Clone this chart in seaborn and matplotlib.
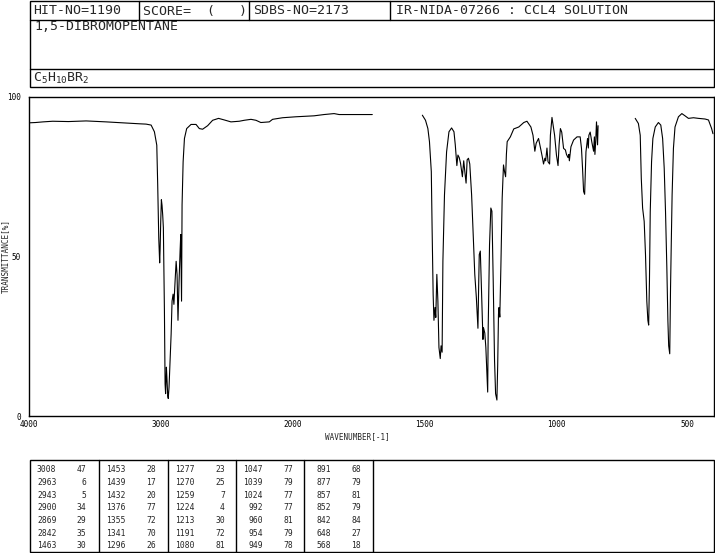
import numpy as np
import pandas as pd
import matplotlib
matplotlib.use("Agg")
import matplotlib.pyplot as plt
import seaborn as sns
from matplotlib.patches import Rectangle
from matplotlib.ticker import FixedLocator, FixedFormatter

# IR spectrum of 1,5-dibromopentane in three pieces
seg1_wn = [4000, 3950, 3894, 3820, 3700, 3566, 3414, 3288, 3161, 3111, 3073, 3048,
           3030, 3023, 3015, 3008, 3005, 3000, 2995, 2990, 2985, 2980, 2972, 2967,
           2963, 2957, 2952, 2947, 2943, 2937, 2929, 2921, 2914, 2906, 2900, 2891,
           2883, 2876, 2869, 2861, 2853, 2848, 2842, 2838, 2830, 2820, 2803, 2770,
           2732, 2707, 2682, 2644, 2606, 2561, 2517, 2467, 2404, 2366, 2315, 2277,
           2240, 2176, 2151, 2075, 1987, 1918, 1880, 1842, 1823, 1754, 1697]
seg1_t = [91.9, 92.0, 92.2, 92.4, 92.3, 92.5, 92.2, 91.9, 91.6, 91.5, 91.2, 89.1,
          84.9, 72.5, 55.8, 48.0, 51.8, 61.0, 67.8, 66.0, 63.0, 59.0, 33.0, 10.0,
          7.0, 15.3, 11.0, 6.4, 5.5, 9.0, 17.4, 25.7, 36.0, 38.2, 35.0, 42.3,
          48.5, 44.3, 30.0, 42.0, 51.7, 56.9, 36.0, 66.2, 79.7, 87.0, 90.1, 91.4,
          91.4, 90.1, 89.9, 91.0, 92.7, 93.3, 92.8, 92.2, 92.4, 92.7, 93.0, 92.7,
          92.0, 92.2, 93.0, 93.5, 93.8, 94.1, 94.5, 94.8, 94.5, 94.5, 94.5]

seg2_wn = [1507, 1495, 1486, 1480, 1473, 1470, 1466, 1463, 1459, 1456, 1452, 1448,
           1444, 1439, 1436, 1432, 1429, 1423, 1415, 1406, 1396, 1387, 1382, 1376,
           1372, 1367, 1362, 1355, 1350, 1345, 1341, 1337, 1332, 1327, 1320, 1314,
           1308, 1302, 1296, 1293, 1291, 1287, 1282, 1277, 1275, 1270, 1266, 1259,
           1257, 1252, 1247, 1243, 1238, 1233, 1229, 1224, 1221, 1218, 1216, 1213,
           1209, 1204, 1199, 1195, 1191, 1188, 1185, 1173, 1160, 1141, 1122, 1110,
           1095, 1087, 1080, 1075, 1066, 1057, 1052, 1047, 1042, 1039, 1034, 1030,
           1024, 1021, 1015, 1005, 998, 992, 988, 983, 978, 971, 964, 960,
           954, 951, 949, 943, 933, 920, 908, 903, 899, 895, 891, 886,
           880, 877, 875, 870, 864, 857, 854, 852, 849, 846, 842, 840]
seg2_t = [94.3, 92.7, 90.1, 86.0, 76.6, 59.0, 38.1, 30.0, 34.0, 30.9, 44.4, 36.0,
          21.5, 18.0, 22.0, 20.0, 48.5, 69.3, 82.8, 89.1, 90.3, 89.1, 85.0, 78.5,
          81.8, 81.0, 79.2, 75.0, 80.0, 76.0, 73.0, 80.3, 80.8, 79.0, 69.3, 56.9,
          44.4, 37.1, 27.5, 42.0, 50.6, 51.7, 38.1, 24.0, 27.7, 26.0, 21.5, 7.5,
          28.0, 53.7, 65.2, 64.2, 42.3, 17.4, 7.0, 5.0, 16.0, 31.9, 34.0, 31.0,
          46.5, 68.3, 78.7, 76.6, 75.0, 82.0, 86.0, 87.5, 90.0, 90.6, 92.0, 92.4,
          90.6, 88.0, 83.0, 85.5, 87.0, 83.4, 81.3, 79.0, 80.8, 80.0, 84.0, 79.7,
          79.0, 88.0, 93.6, 88.0, 81.8, 78.5, 85.0, 90.1, 89.0, 83.9, 83.4, 82.0,
          81.0, 82.0, 80.0, 84.4, 86.5, 87.5, 87.5, 83.9, 77.7, 70.4, 69.5, 82.8,
          87.0, 84.0, 88.0, 89.0, 86.0, 83.0, 87.5, 82.0, 86.0, 92.2, 85.0, 91.0]

seg3_wn = [699, 687, 680, 676, 671, 665, 660, 655, 651, 648, 645, 642,
           637, 632, 623, 611, 602, 595, 589, 584, 579, 575, 572, 568,
           565, 562, 559, 554, 548, 535, 522, 510, 497, 478, 459, 434,
           421, 409, 404]
seg3_t = [93.3, 91.7, 88.0, 74.5, 65.2, 61.0, 50.6, 36.0, 30.0, 28.5, 42.3, 64.0,
          79.7, 87.0, 90.6, 92.0, 91.2, 87.0, 77.7, 64.0, 46.5, 29.8, 22.0, 19.5,
          40.0, 55.0, 69.3, 83.9, 90.6, 93.8, 94.8, 94.1, 93.3, 93.5, 93.3, 93.1,
          92.8, 90.1, 88.5]

# peak table (wavenumber, transmittance), five columns of seven rows
peak_wn = [3008, 2963, 2943, 2900, 2869, 2842, 1463,
           1453, 1439, 1432, 1376, 1355, 1341, 1296,
           1277, 1270, 1259, 1224, 1213, 1191, 1080,
           1047, 1039, 1024, 992, 960, 954, 949,
           891, 877, 857, 852, 842, 648, 568]
peak_t = [47, 6, 5, 34, 29, 35, 30,
          28, 17, 20, 77, 72, 70, 26,
          23, 25, 7, 4, 30, 72, 81,
          77, 79, 77, 77, 81, 79, 78,
          68, 79, 81, 79, 84, 27, 18]

header_cells = ["HIT-NO=1190", "SCORE=  (   )", "SDBS-NO=2173",
                "IR-NIDA-07266 : CCL4 SOLUTION"]
compound = "1,5-DIBROMOPENTANE"
formula = r"$\mathtt{C_{5}H_{10}BR_{2}}$"

sns.set_theme(style="white")
plt.rcParams["font.family"] = ["DejaVu Sans Mono", "DejaVu Sans"]
plt.rcParams["mathtext.fontset"] = "dejavusans"

W, H = 715, 553
fig = plt.figure(figsize=(W / 100, H / 100), dpi=100)


def px_box(x0, y0, x1, y1):
    return [x0 / W, 1 - y1 / H, (x1 - x0) / W, (y1 - y0) / H]


# spectrum axes
ax = fig.add_axes(px_box(29, 97, 714, 416))
spec = pd.concat([
    pd.DataFrame({"wn": seg1_wn, "T": seg1_t, "seg": 1}),
    pd.DataFrame({"wn": seg2_wn, "T": seg2_t, "seg": 2}),
    pd.DataFrame({"wn": seg3_wn, "T": seg3_t, "seg": 3}),
])
sns.lineplot(data=spec, x="wn", y="T", units="seg", estimator=None, sort=False,
             color="black", linewidth=0.8, ax=ax, legend=False)


# wavenumber axis: 500 per unit below 2000, 1000 per unit above (increasing)
def fwd(w):
    w = np.asarray(w, dtype=float)
    return np.where(w <= 2000, (w - 400) / 500, 3.2 + (w - 2000) / 1000)


def inv(u):
    u = np.asarray(u, dtype=float)
    return np.where(u <= 3.2, 400 + 500 * u, 2000 + 1000 * (u - 3.2))


ax.set_xscale("function", functions=(fwd, inv))
ax.set_xlim(4000, 400)
ax.set_ylim(0, 100)

major_x = [4000, 3500, 3000, 2500, 2000, 1750, 1500, 1250, 1000, 750, 500]
major_lab = ["4000", "", "3000", "", "2000", "", "1500", "", "1000", "", "500"]
ax.xaxis.set_major_locator(FixedLocator(major_x))
ax.xaxis.set_major_formatter(FixedFormatter(major_lab))
ax.xaxis.set_minor_locator(FixedLocator(list(range(3900, 2000, -100)) + list(range(1900, 400, -100))))
ax.yaxis.set_major_locator(FixedLocator([0, 50, 100]))
ax.yaxis.set_minor_locator(FixedLocator(list(range(10, 100, 10))))
ax.set_yticklabels(["0", "50", "100"])

ax.tick_params(axis="x", which="major", direction="in", length=4, width=0.8,
               labelsize=5.5, pad=3, colors="black")
ax.tick_params(axis="x", which="minor", direction="in", length=2, width=0.8)
ax.tick_params(axis="y", which="major", direction="out", length=4, width=0.8,
               labelsize=5.5, pad=2, colors="black")
ax.tick_params(axis="y", which="minor", direction="out", length=3, width=0.8)
ax.set_xlabel("")
ax.set_ylabel("")
for sp in ax.spines.values():
    sp.set_color("black")
    sp.set_linewidth(1.0)

# overlay in pixel coordinates for the header and the peak table
ov = fig.add_axes([0, 0, 1, 1], zorder=-1)
ov.set_xlim(0, W)
ov.set_ylim(H, 0)
ov.axis("off")

lw = 1.0
ov.add_patch(Rectangle((29.5, 0.5), 684.5, 86.5, fill=False, ec="black", lw=lw))
ov.plot([29.5, 714], [20, 20], color="black", lw=lw)
ov.plot([29.5, 714], [69, 69], color="black", lw=lw)
for xd in [139, 249, 390]:
    ov.plot([xd, xd], [0.5, 20], color="black", lw=lw)

head_x = [33, 143, 253, 396]
for hx, txt in zip(head_x, header_cells):
    ov.text(hx, 11, txt, fontsize=9.5, va="center", ha="left")
ov.text(34, 27, compound, fontsize=9.5, va="center", ha="left")
ov.text(33, 78, formula, fontsize=9.5, va="center", ha="left")

ov.text(6, 256, "TRANSMITTANCE[%]", fontsize=5.5, rotation=90, va="center", ha="center")
ov.text(357, 437, "WAVENUMBER[-1]", fontsize=5.5, va="center", ha="center")

# peak table
ov.add_patch(Rectangle((29.5, 460), 684.5, 92, fill=False, ec="black", lw=lw))
col_left = [29.5, 99, 168, 236, 304]
for xd in col_left[1:] + [373]:
    ov.plot([xd, xd], [460, 552], color="black", lw=lw)
for i, (wn, t) in enumerate(zip(peak_wn, peak_t)):
    c, r = divmod(i, 7)
    y = 470 + r * 12.6
    ov.text(col_left[c] + 27, y, str(wn), fontsize=5.8, ha="right", va="center")
    ov.text(col_left[c] + 57, y, str(t), fontsize=5.8, ha="right", va="center")

fig.savefig("out.png", dpi=100)
